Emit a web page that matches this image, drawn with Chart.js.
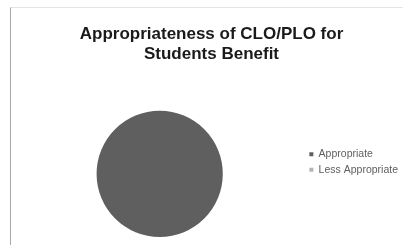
<!DOCTYPE html>
<html>
<head>
<meta charset="utf-8">
<script src="https://cdn.jsdelivr.net/npm/chart.js@4"></script>
<style>
  html, body { margin: 0; padding: 0; background: #fff; }
  #wrap { position: relative; width: 403px; height: 245px; }
  #frame { position: absolute; left: 10px; top: 7px; right: 0; bottom: 0;
           border-left: 1px solid #a8a8a8; border-top: 1px solid #e4e4e4; }
  canvas { position: absolute; left: 0; top: 0; }
</style>
</head>
<body>
<div id="wrap">
  <div id="frame"></div>
  <canvas id="chart" width="403" height="245"></canvas>
</div>
<script>
// values
const categories = ['Appropriate', 'Less Appropriate'];
const shares = [100, 0];
const sliceColors = ['#5f5f5f', '#b4b4b4'];
const titleLines = ['Appropriateness of CLO/PLO for', 'Students Benefit'];

new Chart(document.getElementById('chart'), {
  type: 'pie',
  data: {
    labels: categories,
    datasets: [{
      data: shares,
      backgroundColor: sliceColors,
      borderWidth: 0
    }]
  },
  options: {
    responsive: false,
    animation: false,
    layout: { padding: { left: 15, right: -5, top: 0, bottom: 8 } },
    plugins: {
      tooltip: { enabled: false },
      title: {
        display: true,
        text: titleLines,
        color: '#1a1a1a',
        font: { family: 'Liberation Sans', size: 17, weight: 'bold' },
        lineHeight: 1.2,
        padding: { top: 24, bottom: 46 }
      },
      legend: {
        position: 'right',
        align: 'center',
        // empty legend title only pushes the entries down next to the pie
        title: {
          display: true,
          text: ' ',
          font: { size: 6 },
          padding: { top: 40, bottom: 40 }
        },
        labels: {
          usePointStyle: true,
          pointStyle: 'rect',
          boxWidth: 4,
          boxHeight: 4,
          padding: 5,
          color: '#606060',
          font: { family: 'Liberation Sans', size: 10.5 }
        }
      }
    }
  }
});
</script>
</body>
</html>
